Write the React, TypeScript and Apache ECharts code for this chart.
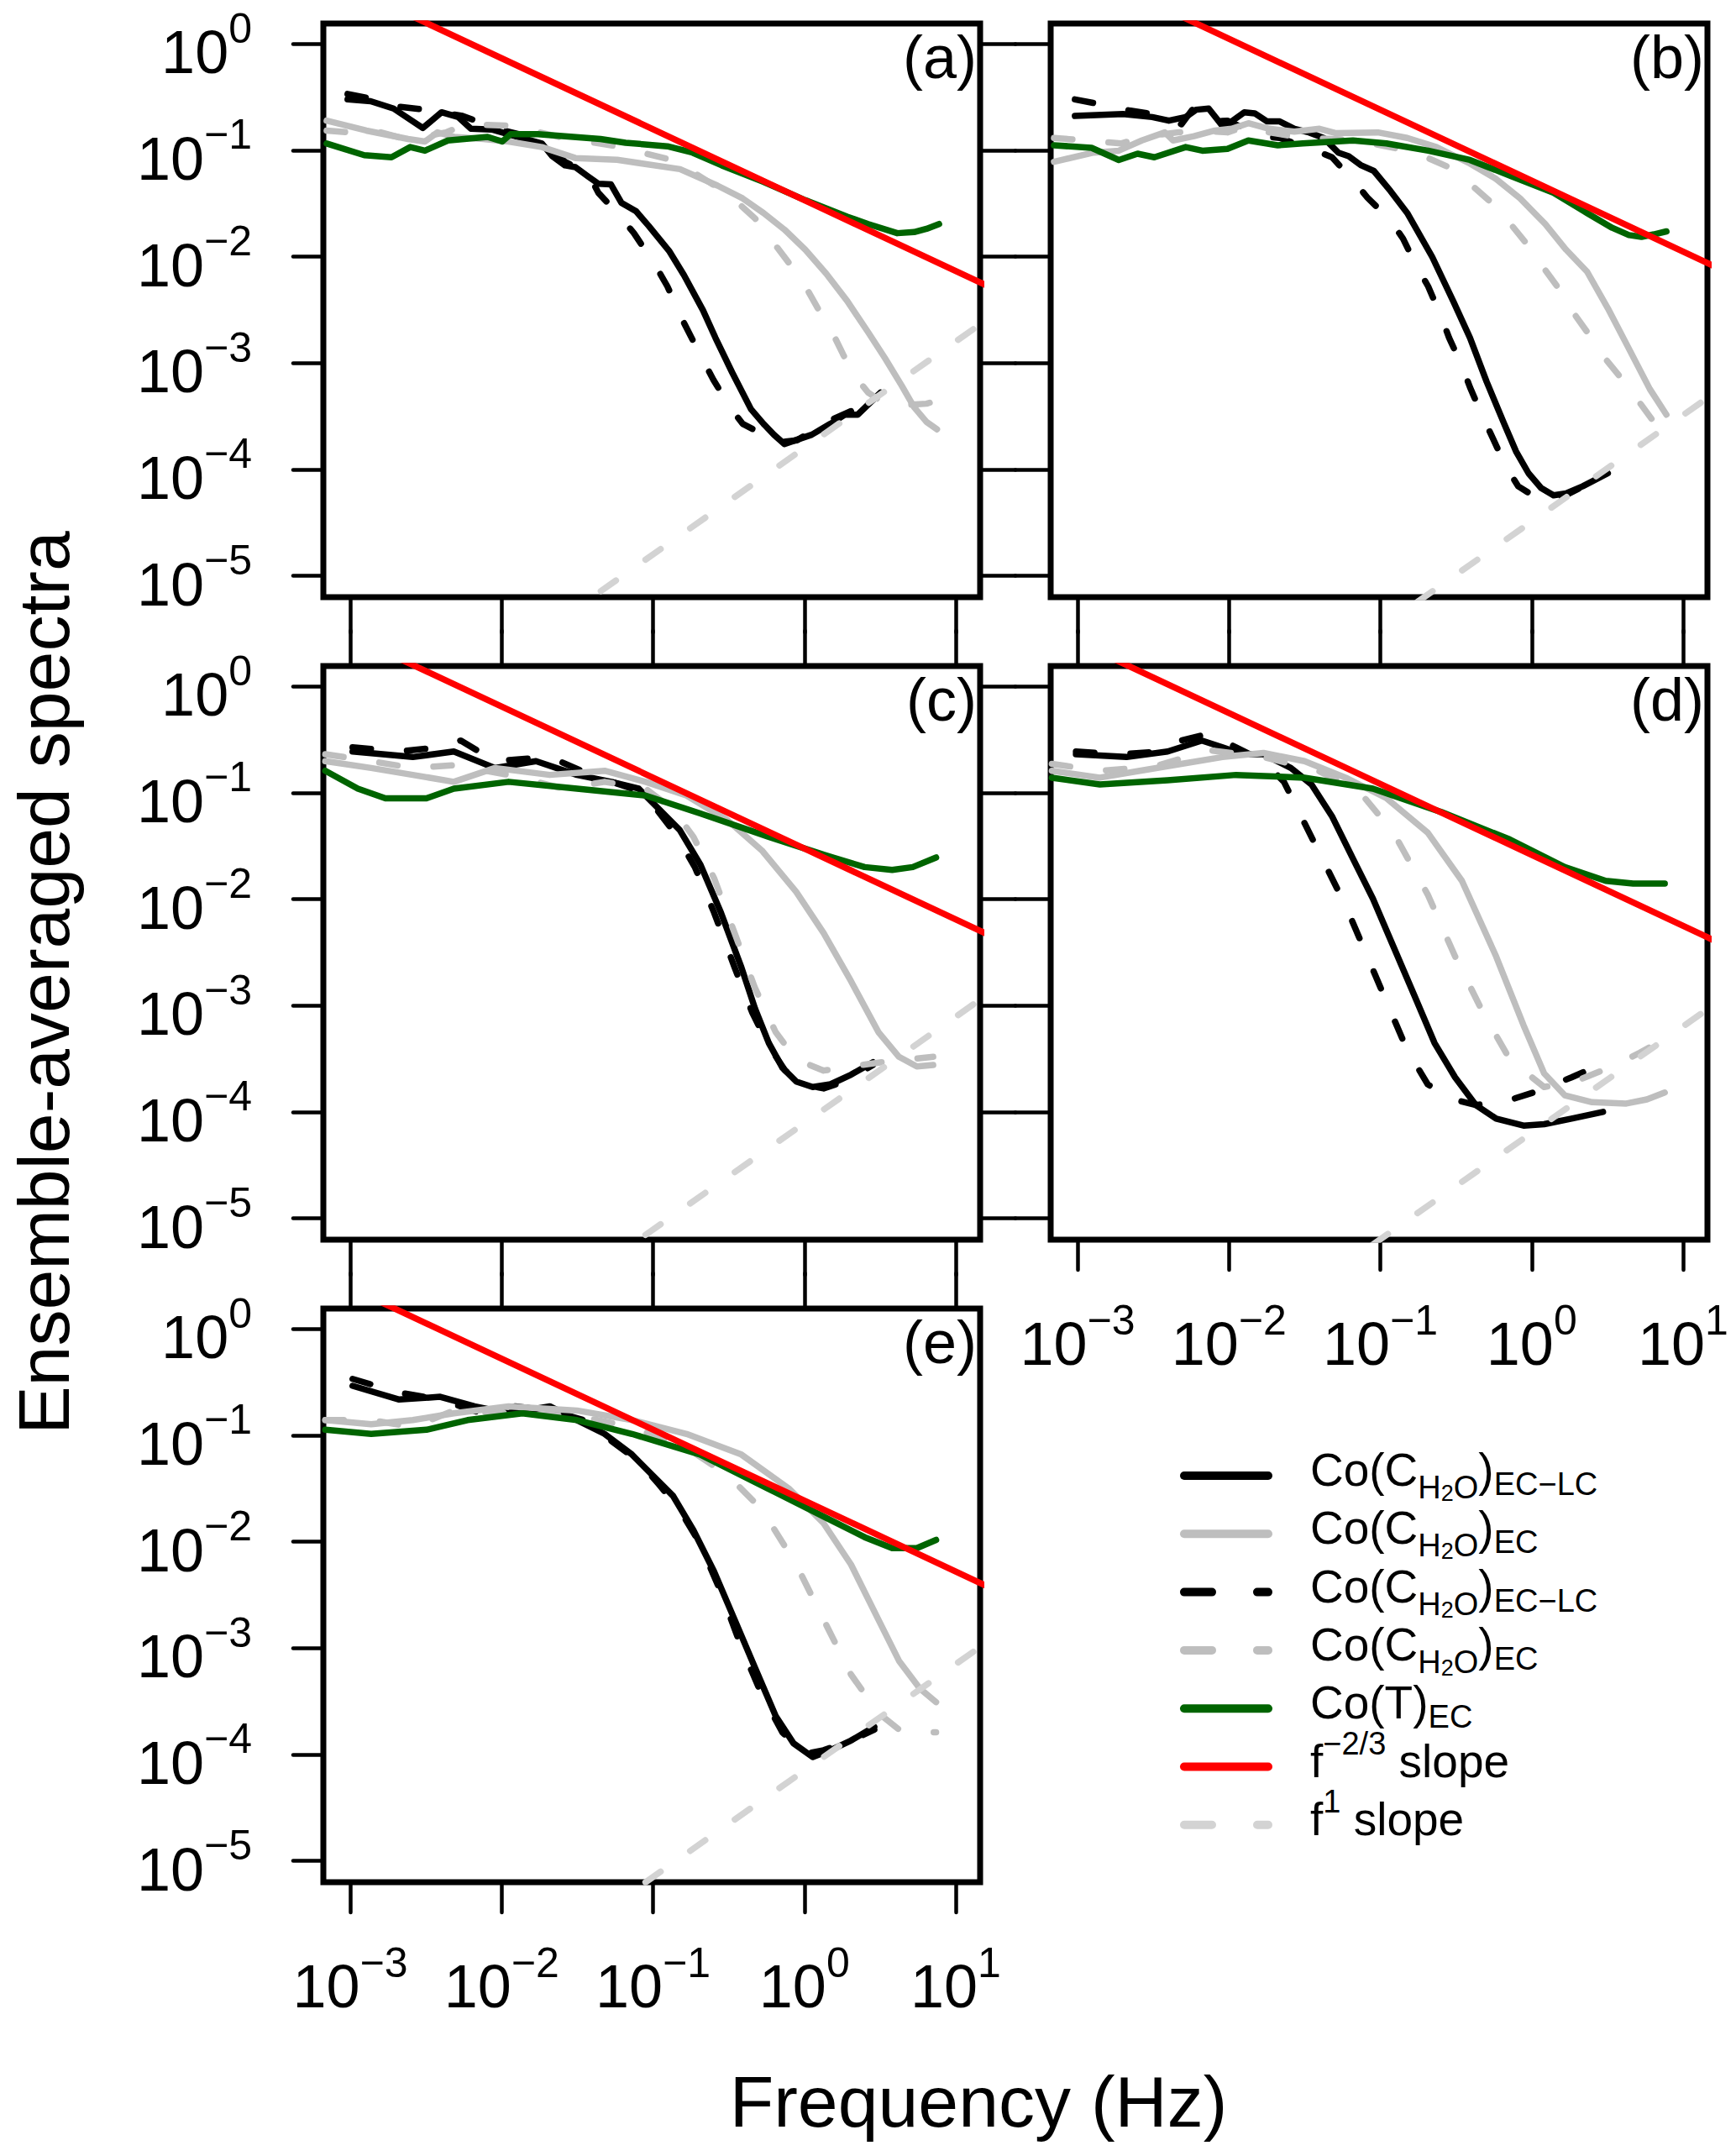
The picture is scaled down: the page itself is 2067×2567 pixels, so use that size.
import * as echarts from "echarts";
import { useEffect, useRef } from "react";

// every pair is [log10 frequency (Hz), log10 ensemble-averaged spectrum]

// (a)
const aBlackSolid = [[-3.018,-0.523],[-2.866,-0.540],[-2.714,-0.609],[-2.521,-0.792],[-2.397,-0.644],[-2.286,-0.689],[-2.203,-0.799],[-2.065,-0.806],[-1.872,-0.885],[-1.734,-0.937],[-1.665,-1.057],[-1.582,-1.143],[-1.513,-1.160],[-1.430,-1.246],[-1.361,-1.315],[-1.278,-1.322],[-1.209,-1.494],[-1.112,-1.574],[-1.029,-1.711],[-0.891,-1.952],[-0.795,-2.176],[-0.670,-2.504],[-0.588,-2.762],[-0.477,-3.089],[-0.353,-3.433],[-0.270,-3.571],[-0.201,-3.674],[-0.132,-3.761],[0.048,-3.674],[0.172,-3.571],[0.269,-3.485],[0.352,-3.485],[0.503,-3.278]];
const aBlackDashed = [[-3.018,-0.472],[-2.866,-0.516],[-2.714,-0.585],[-2.507,-0.620],[-2.259,-0.678],[-2.010,-0.806],[-1.789,-0.885],[-1.665,-0.988],[-1.582,-1.109],[-1.430,-1.212],[-1.361,-1.401],[-1.237,-1.591],[-1.126,-1.780],[-0.988,-2.073],[-0.905,-2.280],[-0.795,-2.624],[-0.684,-2.934],[-0.601,-3.158],[-0.491,-3.416],[-0.408,-3.571],[-0.270,-3.674],[-0.159,-3.743],[-0.049,-3.726],[0.048,-3.640],[0.172,-3.537],[0.366,-3.416],[0.503,-3.278]];
const aGraySolid = [[-3.156,-0.723],[-2.894,-0.816],[-2.618,-0.895],[-2.507,-0.919],[-2.424,-0.833],[-2.314,-0.875],[-2.120,-0.895],[-1.955,-0.919],[-1.734,-0.971],[-1.513,-1.074],[-1.237,-1.091],[-1.071,-1.126],[-0.822,-1.178],[-0.684,-1.264],[-0.574,-1.333],[-0.408,-1.453],[-0.270,-1.591],[-0.132,-1.746],[0.006,-1.935],[0.144,-2.159],[0.283,-2.417],[0.421,-2.710],[0.531,-2.951],[0.642,-3.210],[0.725,-3.416],[0.807,-3.554],[0.876,-3.623]];
const aGrayDashed = [[-3.156,-0.816],[-3.004,-0.833],[-2.839,-0.816],[-2.618,-0.902],[-2.369,-0.833],[-2.231,-0.757],[-1.927,-0.771],[-1.623,-0.875],[-1.237,-0.964],[-1.071,-1.023],[-0.878,-1.091],[-0.767,-1.178],[-0.574,-1.350],[-0.477,-1.446],[-0.325,-1.643],[-0.242,-1.798],[-0.104,-2.056],[-0.007,-2.245],[0.089,-2.486],[0.172,-2.676],[0.255,-2.917],[0.324,-3.106],[0.421,-3.278],[0.531,-3.382],[0.614,-3.399],[0.807,-3.382],[0.890,-3.347]];
const aGreen = [[-3.156,-0.937],[-2.908,-1.047],[-2.728,-1.067],[-2.604,-0.971],[-2.507,-1.005],[-2.355,-0.909],[-2.093,-0.875],[-1.996,-0.919],[-1.941,-0.850],[-1.761,-0.850],[-1.347,-0.895],[-1.181,-0.930],[-0.905,-0.964],[-0.739,-1.023],[-0.546,-1.143],[-0.270,-1.298],[0.006,-1.470],[0.283,-1.625],[0.421,-1.694],[0.614,-1.780],[0.725,-1.770],[0.807,-1.739],[0.890,-1.694]];
const aSlope23 = [[-4, 1.197],[2, -2.803]];
const aSlope1 = [[-4, -7.798],[2, -1.798]];

// (b)
const bBlackSolid = [[-3.018,-0.678],[-2.700,-0.661],[-2.507,-0.689],[-2.397,-0.723],[-2.286,-0.689],[-2.217,-0.620],[-2.134,-0.609],[-2.038,-0.782],[-1.982,-0.730],[-1.899,-0.644],[-1.830,-0.654],[-1.748,-0.730],[-1.665,-0.730],[-1.568,-0.799],[-1.471,-0.833],[-1.375,-0.885],[-1.278,-1.023],[-1.209,-1.057],[-1.126,-1.143],[-1.043,-1.195],[-0.933,-1.384],[-0.822,-1.591],[-0.657,-2.004],[-0.519,-2.417],[-0.408,-2.762],[-0.298,-3.175],[-0.187,-3.554],[-0.104,-3.829],[-0.021,-4.036],[0.062,-4.174],[0.144,-4.243],[0.227,-4.225],[0.338,-4.157],[0.503,-4.036]];
const bBlackDashed = [[-3.018,-0.523],[-2.866,-0.565],[-2.659,-0.627],[-2.507,-0.661],[-2.314,-0.757],[-2.231,-0.599],[-2.120,-0.730],[-2.010,-0.723],[-1.789,-0.868],[-1.665,-0.885],[-1.458,-0.988],[-1.319,-1.067],[-1.181,-1.281],[-1.085,-1.446],[-0.933,-1.660],[-0.850,-1.832],[-0.767,-2.073],[-0.684,-2.280],[-0.601,-2.555],[-0.546,-2.762],[-0.463,-3.020],[-0.408,-3.227],[-0.325,-3.502],[-0.256,-3.709],[-0.173,-3.967],[-0.090,-4.157],[0.006,-4.243],[0.089,-4.277],[0.186,-4.270],[0.310,-4.181],[0.503,-4.053]];
const bGraySolid = [[-3.156,-1.109],[-2.894,-1.023],[-2.728,-1.005],[-2.576,-0.909],[-2.424,-0.833],[-2.369,-0.909],[-2.231,-0.868],[-2.093,-0.816],[-1.982,-0.799],[-1.872,-0.747],[-1.734,-0.799],[-1.568,-0.826],[-1.402,-0.799],[-1.292,-0.840],[-1.016,-0.833],[-0.822,-0.885],[-0.629,-0.971],[-0.408,-1.126],[-0.242,-1.264],[-0.077,-1.453],[0.089,-1.694],[0.227,-1.935],[0.366,-2.142],[0.503,-2.486],[0.642,-2.865],[0.780,-3.244],[0.890,-3.485]];
const bGrayDashed = [[-3.156,-0.885],[-3.004,-0.902],[-2.714,-0.937],[-2.535,-0.868],[-2.341,-0.833],[-2.176,-0.816],[-2.010,-0.833],[-1.872,-0.771],[-1.734,-0.833],[-1.513,-0.885],[-1.181,-0.902],[-0.878,-0.988],[-0.712,-1.057],[-0.519,-1.178],[-0.408,-1.315],[-0.270,-1.488],[-0.159,-1.660],[-0.021,-1.901],[0.062,-2.073],[0.186,-2.314],[0.255,-2.486],[0.393,-2.762],[0.462,-2.917],[0.600,-3.158],[0.683,-3.313],[0.807,-3.554],[0.890,-3.726]];
const bGreen = [[-3.156,-0.954],[-2.908,-0.978],[-2.728,-1.092],[-2.604,-1.033],[-2.493,-1.067],[-2.286,-0.971],[-2.176,-1.005],[-2.010,-0.988],[-1.872,-0.909],[-1.678,-0.954],[-1.513,-0.937],[-1.181,-0.909],[-0.960,-0.937],[-0.684,-1.005],[-0.408,-1.092],[-0.132,-1.246],[0.144,-1.401],[0.366,-1.591],[0.531,-1.729],[0.642,-1.798],[0.725,-1.815],[0.807,-1.791],[0.890,-1.763]];
const bSlope23 = [[-4, 1.380],[2, -2.620]];
const bSlope1 = [[-4, -8.489],[2, -2.489]];

// (c)
const cBlackSolid = [[-2.985,-0.613],[-2.587,-0.665],[-2.316,-0.613],[-2.044,-0.768],[-1.773,-0.704],[-1.502,-0.833],[-1.276,-0.898],[-1.095,-0.962],[-0.959,-1.156],[-0.824,-1.350],[-0.688,-1.673],[-0.552,-2.125],[-0.416,-2.642],[-0.326,-3.029],[-0.235,-3.352],[-0.145,-3.585],[-0.054,-3.714],[0.055,-3.766],[0.172,-3.740],[0.308,-3.650],[0.453,-3.533]];
const cBlackDashed = [[-2.985,-0.574],[-2.677,-0.613],[-2.406,-0.574],[-2.270,-0.510],[-2.044,-0.703],[-1.682,-0.665],[-1.411,-0.833],[-1.140,-0.962],[-0.977,-1.156],[-0.850,-1.389],[-0.724,-1.699],[-0.597,-2.125],[-0.461,-2.642],[-0.344,-3.068],[-0.235,-3.378],[-0.127,-3.611],[-0.009,-3.740],[0.127,-3.779],[0.263,-3.714],[0.453,-3.559]];
const cGraySolid = [[-3.165,-0.704],[-2.862,-0.768],[-2.587,-0.833],[-2.316,-0.898],[-2.044,-0.768],[-1.682,-0.833],[-1.320,-0.794],[-1.049,-0.898],[-0.778,-1.027],[-0.507,-1.260],[-0.280,-1.544],[-0.054,-1.932],[0.127,-2.319],[0.308,-2.771],[0.489,-3.249],[0.625,-3.482],[0.743,-3.572],[0.851,-3.559]];
const cGrayDashed = [[-3.165,-0.639],[-2.862,-0.704],[-2.587,-0.768],[-2.316,-0.742],[-1.954,-0.833],[-1.592,-0.962],[-1.320,-0.898],[-1.049,-0.962],[-0.868,-1.156],[-0.733,-1.415],[-0.597,-1.802],[-0.461,-2.319],[-0.326,-2.836],[-0.190,-3.249],[-0.054,-3.507],[0.127,-3.611],[0.308,-3.572],[0.580,-3.520],[0.851,-3.482]];
const cGreen = [[-3.165,-0.794],[-2.950,-0.962],[-2.768,-1.053],[-2.497,-1.053],[-2.316,-0.962],[-1.954,-0.898],[-1.502,-0.962],[-1.049,-1.027],[-0.688,-1.195],[-0.235,-1.415],[0.127,-1.583],[0.398,-1.699],[0.580,-1.725],[0.716,-1.699],[0.870,-1.609]];
const cSlope23 = [[-4, 1.142],[2, -2.858]];
const cSlope1 = [[-4, -8.105],[2, -2.105]];

// (d)
const dBlackSolid = [[-3.011,-0.639],[-2.677,-0.665],[-2.405,-0.613],[-2.179,-0.510],[-2.043,-0.574],[-1.908,-0.639],[-1.772,-0.639],[-1.591,-0.768],[-1.455,-0.923],[-1.320,-1.220],[-1.185,-1.608],[-1.049,-1.996],[-0.913,-2.448],[-0.777,-2.900],[-0.642,-3.352],[-0.506,-3.675],[-0.370,-3.934],[-0.235,-4.063],[-0.054,-4.128],[0.082,-4.115],[0.263,-4.063],[0.471,-3.999]];
const dBlackDashed = [[-3.011,-0.613],[-2.722,-0.639],[-2.450,-0.613],[-2.315,-0.510],[-2.134,-0.445],[-1.953,-0.574],[-1.772,-0.703],[-1.637,-0.898],[-1.501,-1.285],[-1.365,-1.673],[-1.230,-2.060],[-1.094,-2.513],[-0.959,-2.965],[-0.823,-3.417],[-0.687,-3.740],[-0.551,-3.869],[-0.370,-3.934],[-0.189,-3.908],[0.037,-3.805],[0.263,-3.675],[0.471,-3.546]];
const dGraySolid = [[-3.170,-0.794],[-2.853,-0.859],[-2.589,-0.794],[-2.315,-0.729],[-2.043,-0.665],[-1.772,-0.626],[-1.501,-0.704],[-1.229,-0.859],[-0.958,-1.053],[-0.687,-1.376],[-0.461,-1.828],[-0.235,-2.539],[-0.054,-3.185],[0.082,-3.637],[0.218,-3.843],[0.399,-3.908],[0.625,-3.921],[0.761,-3.882],[0.879,-3.817]];
const dGrayDashed = [[-3.170,-0.729],[-2.853,-0.794],[-2.492,-0.755],[-2.134,-0.600],[-1.772,-0.665],[-1.410,-0.794],[-1.139,-0.988],[-0.913,-1.376],[-0.687,-1.957],[-0.506,-2.539],[-0.325,-3.056],[-0.144,-3.508],[0.082,-3.766],[0.308,-3.701],[0.534,-3.572],[0.715,-3.443],[0.879,-3.314]];
const dGreen = [[-3.170,-0.859],[-2.853,-0.923],[-2.405,-0.884],[-1.953,-0.833],[-1.501,-0.859],[-1.049,-0.962],[-0.597,-1.182],[-0.144,-1.440],[0.218,-1.699],[0.489,-1.828],[0.670,-1.854],[0.879,-1.854]];
const dSlope23 = [[-4, 1.082],[2, -2.918]];
const dSlope1 = [[-4, -8.196],[2, -2.196]];

// (e)
const eBlackSolid = [[-2.985,-0.536],[-2.677,-0.665],[-2.406,-0.639],[-2.180,-0.729],[-1.954,-0.794],[-1.682,-0.729],[-1.502,-0.858],[-1.320,-0.988],[-1.139,-1.182],[-1.004,-1.376],[-0.868,-1.570],[-0.733,-1.893],[-0.597,-2.280],[-0.461,-2.733],[-0.326,-3.185],[-0.190,-3.637],[-0.072,-3.895],[0.055,-4.024],[0.172,-3.960],[0.308,-3.869],[0.462,-3.740]];
const eBlackDashed = [[-2.985,-0.471],[-2.677,-0.600],[-2.406,-0.665],[-2.134,-0.794],[-1.909,-0.729],[-1.682,-0.768],[-1.456,-0.858],[-1.276,-1.053],[-1.095,-1.246],[-0.959,-1.466],[-0.824,-1.699],[-0.688,-2.022],[-0.552,-2.474],[-0.416,-2.991],[-0.280,-3.443],[-0.145,-3.792],[-0.009,-3.998],[0.127,-3.960],[0.308,-3.869],[0.462,-3.766]];
const eGraySolid = [[-3.165,-0.858],[-2.862,-0.897],[-2.587,-0.858],[-2.316,-0.794],[-1.954,-0.729],[-1.502,-0.768],[-1.139,-0.858],[-0.778,-0.988],[-0.416,-1.182],[-0.099,-1.505],[0.127,-1.828],[0.308,-2.215],[0.489,-2.733],[0.625,-3.120],[0.761,-3.378],[0.870,-3.508]];
const eGrayDashed = [[-3.165,-0.858],[-2.862,-0.858],[-2.587,-0.923],[-2.316,-0.768],[-1.954,-0.794],[-1.502,-0.820],[-1.139,-0.923],[-0.778,-1.117],[-0.507,-1.376],[-0.280,-1.699],[-0.054,-2.215],[0.127,-2.733],[0.308,-3.249],[0.489,-3.611],[0.625,-3.766],[0.761,-3.792],[0.870,-3.792]];
const eGreen = [[-3.165,-0.949],[-2.862,-0.988],[-2.497,-0.949],[-2.225,-0.858],[-1.863,-0.794],[-1.502,-0.858],[-1.139,-0.988],[-0.688,-1.182],[-0.235,-1.505],[0.127,-1.764],[0.398,-1.958],[0.580,-2.061],[0.743,-2.061],[0.870,-1.984]];
const eSlope23 = [[-4, 1.052],[2, -2.948]];
const eSlope1 = [[-4, -8.151],[2, -2.151]];

const decadesX = [-3, -2, -1, 0, 1];
const decadesY = [0, -1, -2, -3, -4, -5];
const panelLabels = ["(a)", "(b)", "(c)", "(d)", "(e)"];
const xTitle = "Frequency (Hz)";
const yTitle = "Ensemble-averaged spectra";
const legendLabels = [
  "{b|Co(C}{s|H}{ss|2}{s|O}{b|)}{e|EC\u2212LC}",
  "{b|Co(C}{s|H}{ss|2}{s|O}{b|)}{e|EC}",
  "{b|Co(C}{s|H}{ss|2}{s|O}{b|)}{e|EC\u2212LC}",
  "{b|Co(C}{s|H}{ss|2}{s|O}{b|)}{e|EC}",
  "{b|Co(T)}{e|EC}",
  "{b|f}{p|\u22122/3}{b|\u00a0slope}",
  "{b|f}{p|1}{b|\u00a0slope}",
];

const FONT = '"Liberation Sans", Arial, Helvetica, sans-serif';
const BLACK = "#000000";
const GRAY = "#BEBEBE";
const LIGHT = "#D3D3D3";
const GREEN = "#006400";
const RED = "#FF0000";

const X_MIN = -3.178;
const X_MAX = 1.161;
const Y_MIN = -5.2;
const Y_MAX = 0.19;
const BOX_W = 782;
const BOX_H = 683;

type Ticks = { left?: number; right?: number; top?: number; bottom?: number };
const boxes: { left: number; top: number; xLabels: boolean; yLabels: boolean; ticks: Ticks }[] = [
  { left: 385, top: 28, xLabels: false, yLabels: true, ticks: { left: 36, right: 42, bottom: 42 } },
  { left: 1251, top: 28, xLabels: false, yLabels: false, ticks: { left: 42, bottom: 42 } },
  { left: 385, top: 793, xLabels: false, yLabels: true, ticks: { left: 36, right: 42, top: 42, bottom: 42 } },
  { left: 1251, top: 793, xLabels: true, yLabels: false, ticks: { left: 42, top: 42, bottom: 36 } },
  { left: 385, top: 1558, xLabels: true, yLabels: true, ticks: { left: 36, top: 42, bottom: 36 } },
];

const panelData = [
  [aBlackSolid, aBlackDashed, aGraySolid, aGrayDashed, aGreen, aSlope1, aSlope23],
  [bBlackSolid, bBlackDashed, bGraySolid, bGrayDashed, bGreen, bSlope1, bSlope23],
  [cBlackSolid, cBlackDashed, cGraySolid, cGrayDashed, cGreen, cSlope1, cSlope23],
  [dBlackSolid, dBlackDashed, dGraySolid, dGrayDashed, dGreen, dSlope1, dSlope23],
  [eBlackSolid, eBlackDashed, eGraySolid, eGrayDashed, eGreen, eSlope1, eSlope23],
];

// same order as panelData rows
const looks = [
  { name: "blackSolid", color: BLACK, dashed: false },
  { name: "blackDashed", color: BLACK, dashed: true },
  { name: "graySolid", color: GRAY, dashed: false },
  { name: "grayDashed", color: GRAY, dashed: true },
  { name: "green", color: GREEN, dashed: false },
  { name: "slope1", color: LIGHT, dashed: true },
  { name: "slope23", color: RED, dashed: false },
];
// legend rows, top to bottom, as indices into looks
const legendOrder = [0, 2, 1, 3, 4, 6, 5];

const supText = (v: number) => (v < 0 ? "\u2212" + Math.abs(v) : String(v));
const tickLabel = (v: number) => `{b|10}{s|${supText(Math.round(v))}}`;
const tickRich = {
  b: { fontSize: 72, lineHeight: 100, height: 100, fontFamily: FONT, color: BLACK },
  s: { fontSize: 50, lineHeight: 43, height: 43, verticalAlign: "top", fontFamily: FONT, color: BLACK },
};

const legendRich = {
  b: { fontSize: 55, lineHeight: 90, height: 90, fontFamily: FONT, fill: BLACK },
  s: { fontSize: 38, lineHeight: 48, height: 48, verticalAlign: "bottom", fontFamily: FONT, fill: BLACK },
  ss: { fontSize: 27, lineHeight: 34, height: 34, verticalAlign: "bottom", fontFamily: FONT, fill: BLACK },
  e: { fontSize: 38, lineHeight: 56, height: 56, verticalAlign: "bottom", fontFamily: FONT, fill: BLACK },
  p: { fontSize: 38, lineHeight: 48, height: 48, verticalAlign: "top", fontFamily: FONT, fill: BLACK },
};

function tickAxis(len: number | undefined, values: number[]) {
  return {
    show: !!len,
    length: len || 0,
    customValues: values,
    lineStyle: { color: BLACK, width: 4.5, cap: "round" },
  };
}

export default function App() {
  const ref = useRef<HTMLDivElement | null>(null);

  useEffect(() => {
    if (!ref.current) return;
    document.body.style.margin = "0";
    const chart = echarts.init(ref.current, undefined, { renderer: "svg" });

    const grid: any[] = [];
    const xAxis: any[] = [];
    const yAxis: any[] = [];
    const series: any[] = [];
    const graphics: any[] = [];

    boxes.forEach((p, i) => {
      grid.push({
        left: p.left,
        top: p.top,
        width: BOX_W,
        height: BOX_H,
        show: true,
        borderColor: BLACK,
        borderWidth: 7,
      });
      // onZero off, otherwise the axes sit on the 0 line of the other axis
      const common = {
        gridIndex: i,
        type: "value",
        axisLine: { show: false, onZero: false },
        splitLine: { show: false },
      };
      xAxis.push({
        ...common,
        position: "bottom",
        min: X_MIN,
        max: X_MAX,
        axisTick: tickAxis(p.ticks.bottom, decadesX),
        axisLabel: {
          show: p.xLabels,
          customValues: decadesX,
          margin: 74,
          formatter: tickLabel,
          rich: tickRich,
        },
      });
      xAxis.push({
        ...common,
        position: "top",
        min: X_MIN,
        max: X_MAX,
        axisTick: tickAxis(p.ticks.top, decadesX),
        axisLabel: { show: false },
      });
      yAxis.push({
        ...common,
        position: "left",
        min: Y_MIN,
        max: Y_MAX,
        axisTick: tickAxis(p.ticks.left, decadesY),
        axisLabel: {
          show: p.yLabels,
          customValues: decadesY,
          margin: 85,
          padding: [20, 0, 0, 0],
          formatter: tickLabel,
          rich: tickRich,
        },
      });
      yAxis.push({
        ...common,
        position: "right",
        min: Y_MIN,
        max: Y_MAX,
        axisTick: tickAxis(p.ticks.right, decadesY),
        axisLabel: { show: false },
      });

      panelData[i].forEach((data, k) => {
        const look = looks[k];
        series.push({
          name: look.name,
          type: "line",
          xAxisIndex: 2 * i,
          yAxisIndex: 2 * i,
          data,
          symbol: "none",
          showSymbol: false,
          clip: true,
          silent: true,
          z: 2 + k,
          lineStyle: {
            color: look.color,
            width: 7.5,
            type: look.dashed ? [22, 43] : "solid",
            cap: "round",
            join: "round",
          },
        });
      });

      graphics.push({
        type: "text",
        x: p.left + BOX_W - 4,
        y: p.top + 40,
        silent: true,
        style: {
          text: panelLabels[i],
          fontSize: 72,
          fontFamily: FONT,
          fill: BLACK,
          align: "right",
          verticalAlign: "middle",
        },
      });
    });

    graphics.push({
      type: "text",
      x: 1165,
      y: 2502,
      silent: true,
      style: { text: xTitle, fontSize: 86, fontFamily: FONT, fill: BLACK, align: "center", verticalAlign: "middle" },
    });
    graphics.push({
      type: "text",
      x: 52,
      y: 1170,
      rotation: Math.PI / 2,
      silent: true,
      style: { text: yTitle, fontSize: 86, fontFamily: FONT, fill: BLACK, align: "center", verticalAlign: "middle" },
    });

    legendOrder.forEach((k, row) => {
      const look = looks[k];
      const y = 1757 + row * 69.3;
      graphics.push({
        type: "line",
        silent: true,
        shape: { x1: 1410, y1: y, x2: 1510, y2: y },
        style: {
          stroke: look.color,
          lineWidth: 10,
          lineCap: "round",
          lineDash: look.dashed ? [33, 54] : null,
        },
      });
      graphics.push({
        type: "text",
        x: 1560,
        y: y - 7,
        silent: true,
        style: {
          text: legendLabels[row],
          rich: legendRich,
          fontSize: 55,
          fontFamily: FONT,
          fill: BLACK,
          align: "left",
          verticalAlign: "middle",
        },
      });
    });

    chart.setOption({
      animation: false,
      backgroundColor: "#ffffff",
      grid,
      xAxis,
      yAxis,
      series,
      graphic: { elements: graphics },
    });

    return () => {
      chart.dispose();
    };
  }, []);

  return <div ref={ref} style={{ width: 2067, height: 2567 }} />;
}
